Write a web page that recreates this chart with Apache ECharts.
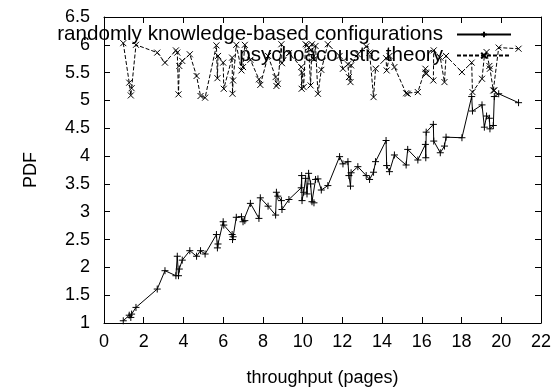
<!DOCTYPE html>
<html>
<head>
<meta charset="utf-8">
<script src="https://cdn.jsdelivr.net/npm/echarts@6/dist/echarts.min.js"></script>
<style>
  html, body { margin: 0; padding: 0; background: #fff; }
  #chart { width: 555px; height: 392px; }
</style>
</head>
<body>
<div id="chart"></div>
<script>
// throughput values (shared by both curves)
var xVals = [0.97, 1.27, 1.35, 1.39, 1.61, 2.68, 3.07, 3.62, 3.69, 3.75, 3.79, 3.94, 4.32, 4.66, 4.86, 5.09,
  5.66, 5.71, 5.74, 6.0, 6.03, 6.45, 6.47, 6.5, 6.66, 6.92, 7.0, 7.09, 7.37, 7.8, 7.87, 8.26, 8.64, 8.68, 8.75,
  8.93, 8.96, 9.31, 9.93, 9.95, 9.97, 10.05, 10.15, 10.22, 10.3, 10.4, 10.47, 10.57, 10.65, 10.77, 10.94, 11.27,
  11.86, 12.03, 12.28, 12.33, 12.41, 12.44, 12.78, 13.2, 13.37, 13.57, 13.67, 14.2, 14.23, 14.37, 14.62, 15.21,
  15.29, 15.8, 16.18, 16.2, 16.22, 16.58, 16.6, 16.93, 17.14, 17.22, 18.02, 18.51, 18.55, 19.03, 19.15, 19.26,
  19.4, 19.43, 19.6, 19.65, 19.87, 20.87];
// randomly knowledge-based configurations
var knowledgeY = [1.04, 1.14, 1.10, 1.16, 1.28, 1.61, 1.94, 1.85, 2.2, 1.85, 1.97, 2.13, 2.3, 2.2, 2.3, 2.24,
  2.59, 2.35, 2.42, 2.82, 2.76, 2.59, 2.5, 2.55, 2.9, 2.91, 2.82, 2.84, 3.15, 2.88, 3.25, 3.1, 2.94, 3.35, 3.28,
  3.2, 3.04, 3.22, 3.43, 3.65, 3.2, 3.35, 3.6, 3.32, 3.69, 3.5, 3.18, 3.16, 3.58, 3.59, 3.39, 3.47,
  3.99, 3.86, 3.9, 3.65, 3.46, 3.7, 3.81, 3.65, 3.58, 3.71, 3.9, 4.28, 3.83, 3.72, 4.02, 3.84,
  4.12, 3.93, 4.21, 3.97, 4.43, 4.57, 4.27, 4.06, 4.18, 4.34, 4.33, 5.07, 4.81, 4.92, 4.52, 4.72,
  4.68, 4.49, 4.55, 5.07, 5.12, 4.96];
// psychoacoustic theory
var theoryY = [6.03, 5.32, 5.09, 5.22, 6.0, 5.86, 5.68, 5.9, 5.86, 5.11, 5.62, 5.71, 5.83, 5.44, 5.08, 5.05,
  5.99, 5.4, 5.8, 5.68, 5.21, 5.77, 5.12, 5.36, 6.0, 5.54, 5.6, 6.0, 5.73, 5.38, 5.28, 5.8, 5.42, 5.26, 5.3,
  6.01, 5.67, 5.85, 5.6, 5.21, 5.5, 5.24, 6.01, 5.99, 5.95, 5.27, 6.01, 5.74, 5.98, 5.12, 5.55, 6.01,
  5.8, 5.57, 5.65, 5.42, 5.33, 5.63, 5.83, 5.97, 5.86, 5.06, 5.57, 5.76, 5.54, 5.8, 5.6, 5.13,
  5.12, 5.15, 5.57, 5.5, 5.48, 5.36, 5.9, 5.77, 5.33, 5.8, 5.51, 5.68, 5.15, 5.39, 5.8, 5.87,
  5.62, 5.57, 5.18, 5.18, 5.95, 5.93];
var seriesNames = ['randomly knowledge-based configurations', 'psychoacoustic theory'];

function pairs(ys) {
  var out = [];
  for (var i = 0; i < xVals.length; i++) {
    out.push([xVals[i], ys[i]]);
  }
  return out;
}

var font = 'Liberation Sans, Arial, Helvetica, sans-serif';
var plusSym = 'path://M0,5L10,5M5,0L5,10';
var crossSym = 'path://M0,0L10,10M10,0L0,10';

var chart = echarts.init(document.getElementById('chart'));

// 边框四周都有刻度（类似 gnuplot 的 mirror）
function frameAxis(pos, isX, showLabel) {
  var a = {
    type: 'value',
    position: pos,
    min: isX ? 0 : 1,
    max: isX ? 22 : 6.5,
    interval: isX ? 2 : 0.5,
    axisLine: { show: true, onZero: false, lineStyle: { color: '#000', width: 1 } },
    axisTick: { show: true, inside: true, length: 6, lineStyle: { color: '#000' } },
    splitLine: { show: false },
    axisLabel: { show: showLabel, color: '#000', fontFamily: font, fontSize: 18, margin: isX ? 10 : 14 }
  };
  return a;
}

var xMain = frameAxis('bottom', true, true);
xMain.name = 'throughput (pages)';
xMain.nameLocation = 'middle';
xMain.nameGap = 46;
xMain.nameTextStyle = { color: '#000', fontFamily: font, fontSize: 18 };

var yMain = frameAxis('left', false, true);
yMain.name = 'PDF';
yMain.nameLocation = 'middle';
yMain.nameGap = 64;
yMain.nameTextStyle = { color: '#000', fontFamily: font, fontSize: 18 };

function legendRow(name, top) {
  return {
    data: [name],
    right: 38, top: top,
    align: 'right',
    itemWidth: 54, itemHeight: 7,
    textStyle: { color: '#000', fontFamily: font, fontSize: 20.6, padding: [0, 9, 0, 0] }
  };
}

var option = {
  backgroundColor: '#fff',
  animation: false,
  grid: { left: 104, right: 14, top: 17, bottom: 64 },
  legend: [legendRow(seriesNames[0], 19), legendRow(seriesNames[1], 40)],
  xAxis: [xMain, frameAxis('top', true, false)],
  yAxis: [yMain, frameAxis('right', false, false)],
  series: [{
    name: seriesNames[0],
    type: 'line',
    data: pairs(knowledgeY),
    symbol: plusSym,
    symbolSize: 7,
    showAllSymbol: true,
    lineStyle: { color: '#000', width: 1 },
    itemStyle: { color: '#000', borderColor: '#000', borderWidth: 1 }
  }, {
    name: seriesNames[1],
    type: 'line',
    data: pairs(theoryY),
    symbol: crossSym,
    symbolSize: 6,
    showAllSymbol: true,
    lineStyle: { color: '#000', width: 1, type: [4, 2] },
    itemStyle: { color: '#000', borderColor: '#000', borderWidth: 1 }
  }]
};
chart.setOption(option);
</script>
</body>
</html>
